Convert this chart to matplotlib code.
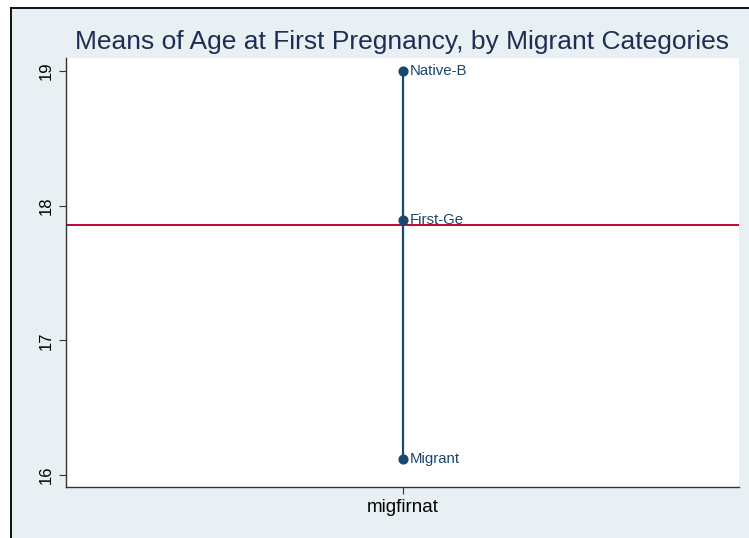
import matplotlib.pyplot as plt
from matplotlib.lines import Line2D

plt.rcParams['font.family'] = ['Liberation Sans', 'DejaVu Sans']

# means by migrant category
categories = ['Native-B', 'First-Ge', 'Migrant']
means = [19.0, 17.896, 16.12]
overall_mean = 17.854
xlabel = 'migfirnat'

navy = '#1a476f'
bg = '#e8f0f3'

fig = plt.figure(figsize=(7.49, 5.38), dpi=100, facecolor='white')
# stata-style graph region (cropped at right/bottom)
fig.patches.append(plt.Rectangle((10 / 749, 0), 1, 1 - 8 / 538, transform=fig.transFigure,
                                 facecolor=bg, edgecolor='none', zorder=-10))
fig.lines.append(Line2D([10.5 / 749, 10.5 / 749], [0, 1 - 7.5 / 538], transform=fig.transFigure,
                        color='black', lw=1.3))
fig.lines.append(Line2D([10.5 / 749, 1], [1 - 7.5 / 538, 1 - 7.5 / 538], transform=fig.transFigure,
                        color='black', lw=1.3))

ax = fig.add_axes([66 / 749, 1 - 487 / 538, (739 - 66) / 749, (487 - 58) / 538])
ax.set_facecolor('white')

x = [1] * len(means)
ax.plot([1, 1], [min(means), max(means)], color=navy, lw=1.6, zorder=2)
ax.scatter(x, means, s=40, color=navy, zorder=3)
for c, m in zip(categories, means):
    ax.annotate(c, (1, m), xytext=(5, 0), textcoords='offset points',
                va='center', ha='left', fontsize=10.8, color=navy)
ax.axhline(overall_mean, color='#c10534', lw=1.4, zorder=1)

ax.set_xlim(0, 2)
ax.set_ylim(15.91, 19.097)
ax.set_xticks([1])
ax.set_xticklabels([xlabel], fontsize=13.5)
ax.set_yticks([16, 17, 18, 19])
ax.set_yticklabels(['16', '17', '18', '19'], rotation=90, va='center', fontsize=12)
ax.tick_params(length=5, width=0.8, colors='#333333', labelcolor='black')
for s in ['top', 'right']:
    ax.spines[s].set_visible(False)
for s in ['left', 'bottom']:
    ax.spines[s].set_color('#333333')
    ax.spines[s].set_linewidth(1.0)

fig.text(402 / 749, 1 - 42 / 538, 'Means of Age at First Pregnancy, by Migrant Categories',
         ha='center', va='center', fontsize=19, color='#1e2d55')

fig.savefig('out.png', dpi=100)
